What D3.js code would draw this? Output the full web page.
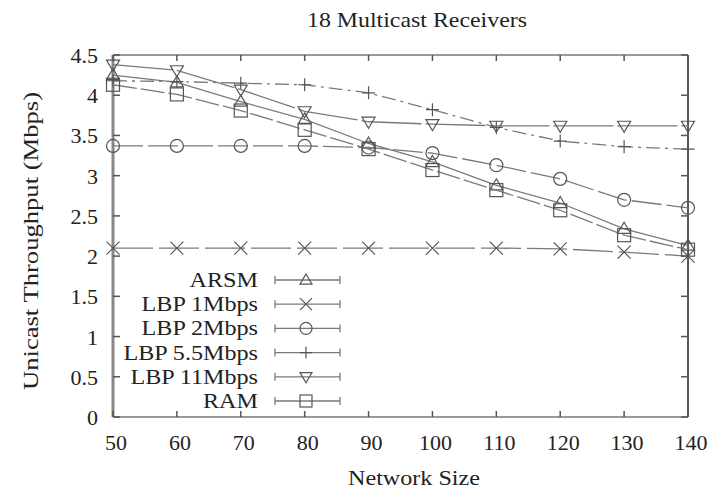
<!DOCTYPE html>
<html>
<head>
<meta charset="utf-8">
<script src="https://cdn.jsdelivr.net/npm/d3@7"></script>
<style>
  body { margin: 0; background: #fff; }
  text { font-family: "Liberation Serif", "DejaVu Serif", serif; fill: #222; }
</style>
</head>
<body>
<svg id="chart" width="710" height="492"></svg>
<script>
// network sizes on the x axis
const sizes = [50, 60, 70, 80, 90, 100, 110, 120, 130, 140];

const arsm    = [4.25, 4.16, 3.92, 3.70, 3.40, 3.17, 2.88, 2.66, 2.34, 2.13];
const lbp1    = [2.10, 2.10, 2.10, 2.10, 2.10, 2.10, 2.10, 2.09, 2.05, 2.00];
const lbp2    = [3.37, 3.37, 3.37, 3.37, 3.35, 3.28, 3.13, 2.96, 2.70, 2.60];
const lbp55   = [4.18, 4.17, 4.15, 4.13, 4.03, 3.82, 3.60, 3.43, 3.36, 3.33];
const lbp11   = [4.38, 4.31, 4.07, 3.80, 3.67, 3.64, 3.62, 3.62, 3.62, 3.62];
const ram     = [4.13, 4.01, 3.81, 3.57, 3.33, 3.07, 2.82, 2.57, 2.26, 2.08];

const seriesNames = ['ARSM', 'LBP 1Mbps', 'LBP 2Mbps', 'LBP 5.5Mbps', 'LBP 11Mbps', 'RAM'];
const yTicks = [0, 0.5, 1, 1.5, 2, 2.5, 3, 3.5, 4, 4.5];

const series = [
  { name: seriesNames[0], values: arsm,  marker: 'tri',   dash: null },
  { name: seriesNames[1], values: lbp1,  marker: 'cross', dash: '40,6' },
  { name: seriesNames[2], values: lbp2,  marker: 'circle', dash: '30,5' },
  { name: seriesNames[3], values: lbp55, marker: 'plus',  dash: '14,5,3,5' },
  { name: seriesNames[4], values: lbp11, marker: 'itri',  dash: '60,4' },
  { name: seriesNames[5], values: ram,   marker: 'box',   dash: '24,4' },
];

const svg = d3.select('#chart');
const margin = { left: 113, right: 22, top: 55, bottom: 75 };
const width = 710, height = 492;

const x = d3.scaleLinear().domain([50, 140]).range([margin.left, width - margin.right]);
const y = d3.scaleLinear().domain([0, 4.5]).range([height - margin.bottom, margin.top]);

const lineCol = '#7a7a7a';
const markCol = '#555';

// frame
const g = svg.append('g');
g.append('line').attr('x1', x(50)).attr('x2', x(140)).attr('y1', y(4.5)).attr('y2', y(4.5))
  .attr('stroke', '#999').attr('stroke-width', 2);
g.append('line').attr('x1', x(50)).attr('x2', x(140)).attr('y1', y(0)).attr('y2', y(0))
  .attr('stroke', '#999').attr('stroke-width', 2);
g.append('line').attr('x1', x(50)).attr('x2', x(50)).attr('y1', y(0)).attr('y2', y(4.5))
  .attr('stroke', '#888').attr('stroke-width', 3);
g.append('line').attr('x1', x(140)).attr('x2', x(140)).attr('y1', y(0)).attr('y2', y(4.5))
  .attr('stroke', '#222').attr('stroke-width', 1.5);

// ticks (inside, mirrored)
sizes.forEach(v => {
  g.append('line').attr('x1', x(v)).attr('x2', x(v)).attr('y1', y(0)).attr('y2', y(0) - 6)
    .attr('stroke', '#555').attr('stroke-width', 1.5);
  g.append('line').attr('x1', x(v)).attr('x2', x(v)).attr('y1', y(4.5)).attr('y2', y(4.5) + 6)
    .attr('stroke', '#555').attr('stroke-width', 1.5);
  g.append('text').attr('x', x(v) + 3).attr('y', y(0) + 33).attr('text-anchor', 'middle')
    .attr('font-size', 22).text(v);
});
yTicks.forEach(v => {
  g.append('line').attr('x1', x(50)).attr('x2', x(50) + 7).attr('y1', y(v)).attr('y2', y(v))
    .attr('stroke', '#555').attr('stroke-width', 1.5);
  g.append('line').attr('x1', x(140)).attr('x2', x(140) - 7).attr('y1', y(v)).attr('y2', y(v))
    .attr('stroke', '#555').attr('stroke-width', 1.5);
  g.append('text').attr('x', x(50) - 15).attr('y', y(v) + 8).attr('text-anchor', 'end')
    .attr('font-size', 22).text(v);
});

// titles (stretched wide like the original bitmap)
svg.append('text').attr('x', 307).attr('y', 27)
  .attr('font-size', 21).attr('textLength', 220).attr('lengthAdjust', 'spacingAndGlyphs')
  .text('18 Multicast Receivers');
svg.append('text').attr('x', 348).attr('y', 485)
  .attr('font-size', 22).attr('textLength', 132).attr('lengthAdjust', 'spacingAndGlyphs')
  .text('Network Size');
svg.append('text').attr('transform', 'translate(38,390) rotate(-90)')
  .attr('font-size', 20).attr('textLength', 298).attr('lengthAdjust', 'spacingAndGlyphs')
  .text('Unicast Throughput (Mbps)');

function drawMarker(sel, type, cx, cy, s) {
  const m = sel.append('g').attr('fill', 'none').attr('stroke', markCol).attr('stroke-width', 1.2);
  if (type === 'tri') {
    m.append('path').attr('d', `M${cx},${cy - s}L${cx + s},${cy + s * 0.7}L${cx - s},${cy + s * 0.7}Z`);
  } else if (type === 'itri') {
    m.append('path').attr('d', `M${cx},${cy + s}L${cx + s},${cy - s * 0.7}L${cx - s},${cy - s * 0.7}Z`);
  } else if (type === 'circle') {
    m.append('circle').attr('cx', cx).attr('cy', cy).attr('r', s);
  } else if (type === 'box') {
    m.append('rect').attr('x', cx - s).attr('y', cy - s).attr('width', 2 * s).attr('height', 2 * s);
  } else if (type === 'cross') {
    m.append('path').attr('d', `M${cx - s},${cy - s}L${cx + s},${cy + s}M${cx - s},${cy + s}L${cx + s},${cy - s}`);
  } else if (type === 'plus') {
    m.append('path').attr('d', `M${cx - s},${cy}L${cx + s},${cy}M${cx},${cy - s}L${cx},${cy + s}`);
  }
}

const line = d3.line().x(d => x(d[0])).y(d => y(d[1]));

series.forEach(s => {
  const pts = sizes.map((v, i) => [v, s.values[i]]);
  svg.append('path').datum(pts).attr('d', line).attr('fill', 'none')
    .attr('stroke', lineCol).attr('stroke-width', 1.3)
    .attr('stroke-dasharray', s.dash);
  pts.forEach(p => drawMarker(svg, s.marker, x(p[0]), y(p[1]), 6.5));
});

// legend
const legX0 = 275, legX1 = 340, legMid = 306;
series.forEach((s, i) => {
  const ly = 280 + i * 24.2;
  svg.append('g').attr('transform', `translate(258,${ly + 7}) scale(1.15,1)`)
    .append('text').attr('text-anchor', 'end').attr('font-size', 21).text(s.name);
  svg.append('line').attr('x1', legX0).attr('x2', legX1).attr('y1', ly).attr('y2', ly)
    .attr('stroke', lineCol).attr('stroke-width', 1.3);
  [legX0, legX1].forEach(ex => svg.append('line').attr('x1', ex).attr('x2', ex)
    .attr('y1', ly - 4).attr('y2', ly + 4).attr('stroke', lineCol).attr('stroke-width', 1.3));
  drawMarker(svg, s.marker, legMid, ly, 6);
});
</script>
</body>
</html>
